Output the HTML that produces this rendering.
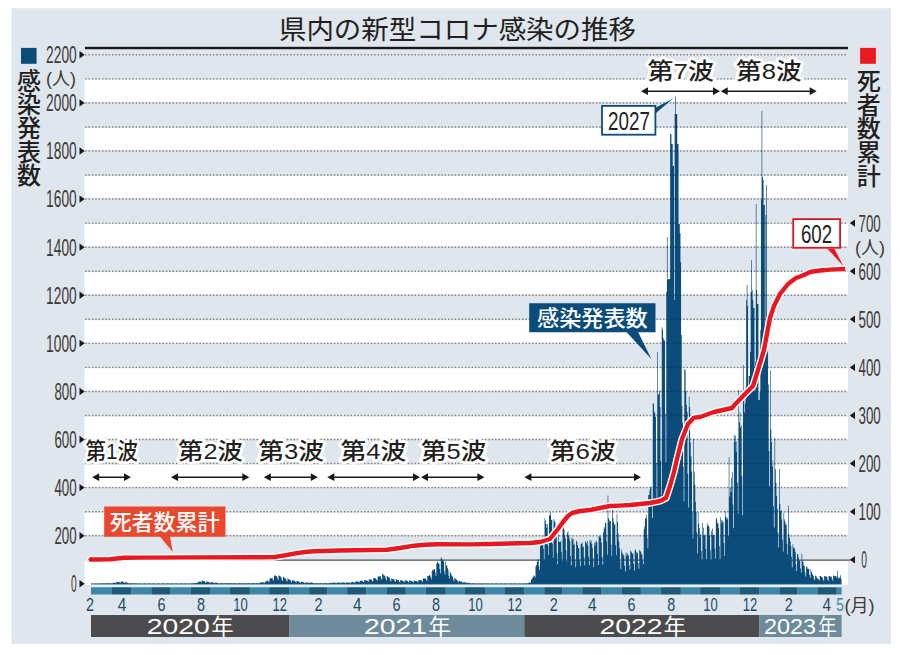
<!DOCTYPE html>
<html lang="ja"><head><meta charset="utf-8"><title>県内の新型コロナ感染の推移</title>
<style>html,body{margin:0;padding:0;background:#fff;}body{width:900px;height:655px;overflow:hidden;font-family:"Liberation Sans",sans-serif;}svg{display:block}svg text{font-family:"Liberation Sans","Noto Sans CJK JP",sans-serif;}</style></head>
<body>
<svg width="900" height="655" viewBox="0 0 900 655" role="img" aria-label="県内の新型コロナ感染の推移">
<rect width="900" height="655" fill="#ffffff"/>
<rect x="11.5" y="8.2" width="879.5" height="635.8" fill="#e0e6ed"/>
<rect x="84.6" y="560.71" width="763.4" height="24.29" fill="#fff"/>
<rect x="84.6" y="512.62" width="763.4" height="22.14" fill="#fff"/>
<rect x="84.6" y="464.52" width="763.4" height="22.15" fill="#fff"/>
<rect x="84.6" y="416.43" width="763.4" height="22.15" fill="#fff"/>
<rect x="84.6" y="368.34" width="763.4" height="22.15" fill="#fff"/>
<rect x="84.6" y="320.25" width="763.4" height="22.14" fill="#fff"/>
<rect x="84.6" y="272.16" width="763.4" height="22.15" fill="#fff"/>
<rect x="84.6" y="224.07" width="763.4" height="22.14" fill="#fff"/>
<rect x="84.6" y="175.98" width="763.4" height="22.15" fill="#fff"/>
<rect x="84.6" y="127.89" width="763.4" height="22.15" fill="#fff"/>
<rect x="84.6" y="79.8" width="763.4" height="22.15" fill="#fff"/>
<path d="M85.2 535.71H848M85.2 511.66H848M85.2 487.62H848M85.2 463.57H848M85.2 439.53H848M85.2 415.48H848M85.2 391.44H848M85.2 367.39H848M85.2 343.35H848M85.2 319.3H848M85.2 295.26H848M85.2 271.21H848M85.2 247.17H848M85.2 223.12H848M85.2 199.08H848M85.2 175.03H848M85.2 150.99H848M85.2 126.94H848M85.2 102.9H848M85.2 78.85H848M85.2 54.81H848" stroke="#808080" stroke-width="1.45" stroke-dasharray="1.45 1.91" fill="none"/>
<rect x="85" y="46.8" width="763" height="2.4" fill="#1a1718"/>
<rect x="90" y="559.46" width="760" height="1.3" fill="#5a5a5c"/>
<path id="bars" d="M91 584.2v-0.65h0.64v0.65zM91.64 584.2v-0.64h0.64v0.64zM92.29 584.2v-0.57h0.64v0.57zM93.58 584.2v-0.71h0.64v0.71zM94.22 584.2v-0.7h0.64v0.7zM94.87 584.2v-0.68h0.64v0.68zM95.51 584.2v-0.7h0.64v0.7zM96.15 584.2v-0.67h0.64v0.67zM96.8 584.2v-0.6h0.64v0.6zM98.09 584.2v-0.75h0.64v0.75zM98.73 584.2v-0.75h0.64v0.75zM99.37 584.2v-0.77h0.64v0.77zM100.02 584.2v-0.73h0.64v0.73zM100.66 584.2v-0.73h0.64v0.73zM101.31 584.2v-0.64h0.64v0.64zM101.95 584.2v-0.58h0.64v0.58zM102.6 584.2v-0.83h0.64v0.83zM103.24 584.2v-0.81h0.64v0.81zM103.88 584.2v-0.84h0.64v0.84zM104.53 584.2v-0.78h0.64v0.78zM105.17 584.2v-0.81h0.64v0.81zM105.82 584.2v-0.67h0.64v0.67zM106.46 584.2v-0.58h0.64v0.58zM107.11 584.2v-0.86h0.64v0.86zM107.75 584.2v-0.87h0.64v0.87zM108.39 584.2v-0.89h0.64v0.89zM109.04 584.2v-0.84h0.64v0.84zM109.68 584.2v-0.85h0.64v0.85zM110.33 584.2v-0.71h0.64v0.71zM110.97 584.2v-0.61h0.64v0.61zM111.61 584.2v-0.95h0.64v0.95zM112.26 584.2v-0.95h0.64v0.95zM112.9 584.2v-1.46h0.64v1.46zM113.55 584.2v-1.54h0.64v1.54zM114.19 584.2v-1.65h0.64v1.65zM114.84 584.2v-1.28h0.64v1.28zM115.48 584.2v-1.04h0.64v1.04zM116.12 584.2v-2.16h0.64v2.16zM116.77 584.2v-2.16h0.64v2.16zM117.41 584.2v-2.18h0.64v2.18zM118.06 584.2v-2.3h0.64v2.3zM118.7 584.2v-2.25h0.64v2.25zM119.34 584.2v-1.62h0.64v1.62zM119.99 584.2v-1.3h0.64v1.3zM120.63 584.2v-2.7h0.64v2.7zM121.28 584.2v-2.77h0.64v2.77zM121.92 584.2v-2.65h0.64v2.65zM122.57 584.2v-2.35h0.64v2.35zM123.21 584.2v-2.3h0.64v2.3zM123.85 584.2v-1.49h0.64v1.49zM124.5 584.2v-1.13h0.64v1.13zM125.14 584.2v-2.16h0.64v2.16zM125.79 584.2v-1.85h0.64v1.85zM126.43 584.2v-1.75h0.64v1.75zM127.08 584.2v-1.52h0.64v1.52zM127.72 584.2v-0.98h0.64v0.98zM128.36 584.2v-0.75h0.64v0.75zM129.01 584.2v-0.62h0.64v0.62zM129.65 584.2v-0.95h0.64v0.95zM130.3 584.2v-0.88h0.64v0.88zM130.94 584.2v-0.87h0.64v0.87zM131.58 584.2v-0.83h0.64v0.83zM132.23 584.2v-0.8h0.64v0.8zM132.87 584.2v-0.66h0.64v0.66zM133.52 584.2v-0.58h0.64v0.58zM134.16 584.2v-0.83h0.64v0.83zM134.81 584.2v-0.78h0.64v0.78zM135.45 584.2v-0.76h0.64v0.76zM136.09 584.2v-0.71h0.64v0.71zM136.74 584.2v-0.71h0.64v0.71zM137.38 584.2v-0.6h0.64v0.6zM138.67 584.2v-0.71h0.64v0.71zM139.31 584.2v-0.67h0.64v0.67zM139.96 584.2v-0.65h0.64v0.65zM140.6 584.2v-0.65h0.64v0.65zM141.25 584.2v-0.62h0.64v0.62zM141.89 584.2v-0.56h0.64v0.56zM143.18 584.2v-0.67h0.64v0.67zM143.82 584.2v-0.65h0.64v0.65zM144.47 584.2v-0.67h0.64v0.67zM145.11 584.2v-0.64h0.64v0.64zM145.76 584.2v-0.63h0.64v0.63zM146.4 584.2v-0.56h0.64v0.56zM147.69 584.2v-0.67h0.64v0.67zM148.33 584.2v-0.67h0.64v0.67zM148.98 584.2v-0.67h0.64v0.67zM149.62 584.2v-0.67h0.64v0.67zM150.27 584.2v-0.66h0.64v0.66zM150.91 584.2v-0.57h0.64v0.57zM152.2 584.2v-0.69h0.64v0.69zM152.84 584.2v-0.67h0.64v0.67zM153.49 584.2v-0.68h0.64v0.68zM154.13 584.2v-0.68h0.64v0.68zM154.78 584.2v-0.64h0.64v0.64zM155.42 584.2v-0.56h0.64v0.56zM156.71 584.2v-0.68h0.64v0.68zM157.35 584.2v-0.68h0.64v0.68zM158 584.2v-0.68h0.64v0.68zM158.64 584.2v-0.66h0.64v0.66zM159.29 584.2v-0.64h0.64v0.64zM159.93 584.2v-0.57h0.64v0.57zM161.22 584.2v-0.7h0.64v0.7zM161.86 584.2v-0.7h0.64v0.7zM162.51 584.2v-0.69h0.64v0.69zM163.15 584.2v-0.67h0.64v0.67zM163.79 584.2v-0.66h0.64v0.66zM164.44 584.2v-0.58h0.64v0.58zM165.73 584.2v-0.72h0.64v0.72zM166.37 584.2v-0.7h0.64v0.7zM167.02 584.2v-0.7h0.64v0.7zM167.66 584.2v-0.69h0.64v0.69zM168.3 584.2v-0.66h0.64v0.66zM168.95 584.2v-0.58h0.64v0.58zM170.24 584.2v-0.71h0.64v0.71zM170.88 584.2v-0.68h0.64v0.68zM171.53 584.2v-0.67h0.64v0.67zM172.17 584.2v-0.67h0.64v0.67zM172.81 584.2v-0.66h0.64v0.66zM173.46 584.2v-0.58h0.64v0.58zM174.75 584.2v-0.69h0.64v0.69zM175.39 584.2v-0.69h0.64v0.69zM176.03 584.2v-0.68h0.64v0.68zM176.68 584.2v-0.68h0.64v0.68zM177.32 584.2v-0.66h0.64v0.66zM177.97 584.2v-0.59h0.64v0.59zM179.26 584.2v-0.71h0.64v0.71zM179.9 584.2v-0.7h0.64v0.7zM180.54 584.2v-0.69h0.64v0.69zM181.19 584.2v-0.68h0.64v0.68zM181.83 584.2v-0.66h0.64v0.66zM182.48 584.2v-0.59h0.64v0.59zM183.76 584.2v-0.72h0.64v0.72zM184.41 584.2v-0.71h0.64v0.71zM185.05 584.2v-0.69h0.64v0.69zM185.7 584.2v-0.68h0.64v0.68zM186.34 584.2v-0.68h0.64v0.68zM186.99 584.2v-0.58h0.64v0.58zM188.27 584.2v-0.72h0.64v0.72zM188.92 584.2v-0.7h0.64v0.7zM189.56 584.2v-0.72h0.64v0.72zM190.21 584.2v-0.73h0.64v0.73zM190.85 584.2v-0.73h0.64v0.73zM191.5 584.2v-0.66h0.64v0.66zM192.14 584.2v-0.58h0.64v0.58zM192.78 584.2v-0.92h0.64v0.92zM193.43 584.2v-0.97h0.64v0.97zM194.07 584.2v-0.98h0.64v0.98zM194.72 584.2v-0.99h0.64v0.99zM195.36 584.2v-1.44h0.64v1.44zM196 584.2v-1.15h0.64v1.15zM196.65 584.2v-0.93h0.64v0.93zM197.29 584.2v-1.9h0.64v1.9zM197.94 584.2v-2h0.64v2zM198.58 584.2v-2.39h0.64v2.39zM199.23 584.2v-2.59h0.64v2.59zM199.87 584.2v-2.8h0.64v2.8zM200.51 584.2v-2.38h0.64v2.38zM201.16 584.2v-1.8h0.64v1.8zM201.8 584.2v-3.71h0.64v3.71zM202.45 584.2v-3.43h0.64v3.43zM203.09 584.2v-3.22h0.64v3.22zM203.74 584.2v-2.98h0.64v2.98zM204.38 584.2v-2.61h0.64v2.61zM205.02 584.2v-1.88h0.64v1.88zM205.67 584.2v-1.36h0.64v1.36zM206.31 584.2v-2.61h0.64v2.61zM206.96 584.2v-2.42h0.64v2.42zM207.6 584.2v-2.33h0.64v2.33zM208.24 584.2v-2.17h0.64v2.17zM208.89 584.2v-2.09h0.64v2.09zM209.53 584.2v-1.52h0.64v1.52zM210.18 584.2v-1.1h0.64v1.1zM210.82 584.2v-2.19h0.64v2.19zM211.47 584.2v-2.07h0.64v2.07zM212.11 584.2v-1.96h0.64v1.96zM212.75 584.2v-1.76h0.64v1.76zM213.4 584.2v-1.63h0.64v1.63zM214.04 584.2v-1.2h0.64v1.2zM214.69 584.2v-0.93h0.64v0.93zM215.33 584.2v-1.67h0.64v1.67zM215.97 584.2v-1.63h0.64v1.63zM216.62 584.2v-1.57h0.64v1.57zM217.26 584.2v-1.01h0.64v1.01zM217.91 584.2v-0.95h0.64v0.95zM218.55 584.2v-0.78h0.64v0.78zM219.2 584.2v-0.66h0.64v0.66zM219.84 584.2v-0.99h0.64v0.99zM220.48 584.2v-1h0.64v1zM221.13 584.2v-0.99h0.64v0.99zM221.77 584.2v-0.96h0.64v0.96zM222.42 584.2v-0.92h0.64v0.92zM223.06 584.2v-0.74h0.64v0.74zM223.71 584.2v-0.62h0.64v0.62zM224.35 584.2v-0.99h0.64v0.99zM224.99 584.2v-0.93h0.64v0.93zM225.64 584.2v-0.93h0.64v0.93zM226.28 584.2v-0.92h0.64v0.92zM226.93 584.2v-0.85h0.64v0.85zM227.57 584.2v-0.7h0.64v0.7zM228.21 584.2v-0.62h0.64v0.62zM228.86 584.2v-0.92h0.64v0.92zM229.5 584.2v-0.86h0.64v0.86zM230.15 584.2v-0.84h0.64v0.84zM230.79 584.2v-0.82h0.64v0.82zM231.44 584.2v-0.83h0.64v0.83zM232.08 584.2v-0.68h0.64v0.68zM232.72 584.2v-0.58h0.64v0.58zM233.37 584.2v-0.87h0.64v0.87zM234.01 584.2v-0.86h0.64v0.86zM234.66 584.2v-0.82h0.64v0.82zM235.3 584.2v-0.79h0.64v0.79zM235.94 584.2v-0.79h0.64v0.79zM236.59 584.2v-0.65h0.64v0.65zM237.23 584.2v-0.57h0.64v0.57zM237.88 584.2v-0.88h0.64v0.88zM238.52 584.2v-0.85h0.64v0.85zM239.17 584.2v-0.83h0.64v0.83zM239.81 584.2v-0.84h0.64v0.84zM240.45 584.2v-0.8h0.64v0.8zM241.1 584.2v-0.69h0.64v0.69zM241.74 584.2v-0.6h0.64v0.6zM242.39 584.2v-0.86h0.64v0.86zM243.03 584.2v-0.85h0.64v0.85zM243.68 584.2v-0.84h0.64v0.84zM244.32 584.2v-0.82h0.64v0.82zM244.96 584.2v-0.83h0.64v0.83zM245.61 584.2v-0.68h0.64v0.68zM246.25 584.2v-0.6h0.64v0.6zM246.9 584.2v-0.88h0.64v0.88zM247.54 584.2v-0.91h0.64v0.91zM248.18 584.2v-0.86h0.64v0.86zM248.83 584.2v-0.85h0.64v0.85zM249.47 584.2v-0.84h0.64v0.84zM250.12 584.2v-0.71h0.64v0.71zM250.76 584.2v-0.6h0.64v0.6zM251.41 584.2v-0.95h0.64v0.95zM252.05 584.2v-0.9h0.64v0.9zM252.69 584.2v-0.89h0.64v0.89zM253.34 584.2v-0.88h0.64v0.88zM253.98 584.2v-0.83h0.64v0.83zM254.63 584.2v-0.71h0.64v0.71zM255.27 584.2v-0.61h0.64v0.61zM255.92 584.2v-0.91h0.64v0.91zM256.56 584.2v-0.94h0.64v0.94zM257.2 584.2v-0.89h0.64v0.89zM257.85 584.2v-0.91h0.64v0.91zM258.49 584.2v-0.95h0.64v0.95zM259.14 584.2v-1.12h0.64v1.12zM259.78 584.2v-0.93h0.64v0.93zM260.42 584.2v-1.85h0.64v1.85zM261.07 584.2v-1.9h0.64v1.9zM261.71 584.2v-1.99h0.64v1.99zM262.36 584.2v-1.91h0.64v1.91zM263 584.2v-2.02h0.64v2.02zM263.65 584.2v-1.51h0.64v1.51zM264.29 584.2v-1.21h0.64v1.21zM264.93 584.2v-2.65h0.64v2.65zM265.58 584.2v-2.59h0.64v2.59zM266.22 584.2v-2.94h0.64v2.94zM266.87 584.2v-3.36h0.64v3.36zM267.51 584.2v-3.72h0.64v3.72zM268.15 584.2v-2.8h0.64v2.8zM268.8 584.2v-2.28h0.64v2.28zM269.44 584.2v-5.53h0.64v5.53zM270.09 584.2v-5.74h0.64v5.74zM270.73 584.2v-6.07h0.64v6.07zM271.38 584.2v-6.09h0.64v6.09zM272.02 584.2v-6.24h0.64v6.24zM272.66 584.2v-4.55h0.64v4.55zM273.31 584.2v-3.59h0.64v3.59zM273.95 584.2v-8.51h0.64v8.51zM274.6 584.2v-8.62h0.64v8.62zM275.24 584.2v-8.69h0.64v8.69zM275.89 584.2v-8.04h0.64v8.04zM276.53 584.2v-8.21h0.64v8.21zM277.17 584.2v-6.07h0.64v6.07zM277.82 584.2v-4.32h0.64v4.32zM278.46 584.2v-9.07h0.64v9.07zM279.11 584.2v-8.39h0.64v8.39zM279.75 584.2v-8.12h0.64v8.12zM280.39 584.2v-7.24h0.64v7.24zM281.04 584.2v-6.78h0.64v6.78zM281.68 584.2v-4.42h0.64v4.42zM282.33 584.2v-3.28h0.64v3.28zM282.97 584.2v-7.45h0.64v7.45zM283.62 584.2v-7.01h0.64v7.01zM284.26 584.2v-6.04h0.64v6.04zM284.9 584.2v-6.02h0.64v6.02zM285.55 584.2v-5.53h0.64v5.53zM286.19 584.2v-3.52h0.64v3.52zM286.84 584.2v-2.66h0.64v2.66zM287.48 584.2v-5.89h0.64v5.89zM288.13 584.2v-5.02h0.64v5.02zM288.77 584.2v-5.08h0.64v5.08zM289.41 584.2v-4.45h0.64v4.45zM290.06 584.2v-4.13h0.64v4.13zM290.7 584.2v-2.93h0.64v2.93zM291.35 584.2v-2.03h0.64v2.03zM291.99 584.2v-3.99h0.64v3.99zM292.63 584.2v-3.85h0.64v3.85zM293.28 584.2v-3.66h0.64v3.66zM293.92 584.2v-3.38h0.64v3.38zM294.57 584.2v-3.1h0.64v3.1zM295.21 584.2v-2.18h0.64v2.18zM295.86 584.2v-1.64h0.64v1.64zM296.5 584.2v-3.13h0.64v3.13zM297.14 584.2v-3.08h0.64v3.08zM297.79 584.2v-2.85h0.64v2.85zM298.43 584.2v-2.55h0.64v2.55zM299.08 584.2v-2.43h0.64v2.43zM299.72 584.2v-1.75h0.64v1.75zM300.37 584.2v-1.28h0.64v1.28zM301.01 584.2v-2.38h0.64v2.38zM301.65 584.2v-2.42h0.64v2.42zM302.3 584.2v-2.21h0.64v2.21zM302.94 584.2v-2.09h0.64v2.09zM303.59 584.2v-1.77h0.64v1.77zM304.23 584.2v-1.29h0.64v1.29zM304.87 584.2v-0.96h0.64v0.96zM305.52 584.2v-1.92h0.64v1.92zM306.16 584.2v-1.75h0.64v1.75zM306.81 584.2v-1.67h0.64v1.67zM307.45 584.2v-1.65h0.64v1.65zM308.1 584.2v-1.65h0.64v1.65zM308.74 584.2v-1.22h0.64v1.22zM309.38 584.2v-0.92h0.64v0.92zM310.03 584.2v-1.67h0.64v1.67zM310.67 584.2v-1.71h0.64v1.71zM311.32 584.2v-1.6h0.64v1.6zM311.96 584.2v-1.56h0.64v1.56zM312.6 584.2v-1.41h0.64v1.41zM313.25 584.2v-1.07h0.64v1.07zM313.89 584.2v-0.67h0.64v0.67zM314.54 584.2v-1.04h0.64v1.04zM315.18 584.2v-0.98h0.64v0.98zM315.83 584.2v-1.01h0.64v1.01zM316.47 584.2v-0.96h0.64v0.96zM317.11 584.2v-0.93h0.64v0.93zM317.76 584.2v-0.72h0.64v0.72zM318.4 584.2v-0.64h0.64v0.64zM319.05 584.2v-0.93h0.64v0.93zM319.69 584.2v-0.95h0.64v0.95zM320.34 584.2v-0.92h0.64v0.92zM320.98 584.2v-0.9h0.64v0.9zM321.62 584.2v-0.89h0.64v0.89zM322.27 584.2v-0.75h0.64v0.75zM322.91 584.2v-0.63h0.64v0.63zM323.56 584.2v-0.97h0.64v0.97zM324.2 584.2v-0.98h0.64v0.98zM324.84 584.2v-0.95h0.64v0.95zM325.49 584.2v-0.93h0.64v0.93zM326.13 584.2v-0.91h0.64v0.91zM326.78 584.2v-0.74h0.64v0.74zM327.42 584.2v-0.64h0.64v0.64zM328.07 584.2v-1.03h0.64v1.03zM328.71 584.2v-1.01h0.64v1.01zM329.35 584.2v-1.03h0.64v1.03zM330 584.2v-1.46h0.64v1.46zM330.64 584.2v-1.45h0.64v1.45zM331.29 584.2v-1.09h0.64v1.09zM331.93 584.2v-0.89h0.64v0.89zM332.57 584.2v-1.59h0.64v1.59zM333.22 584.2v-1.58h0.64v1.58zM333.86 584.2v-1.52h0.64v1.52zM334.51 584.2v-1.6h0.64v1.6zM335.15 584.2v-1.53h0.64v1.53zM335.8 584.2v-1.14h0.64v1.14zM336.44 584.2v-0.93h0.64v0.93zM337.08 584.2v-1.82h0.64v1.82zM337.73 584.2v-1.64h0.64v1.64zM338.37 584.2v-1.73h0.64v1.73zM339.02 584.2v-1.64h0.64v1.64zM339.66 584.2v-1.6h0.64v1.6zM340.31 584.2v-1.25h0.64v1.25zM340.95 584.2v-0.96h0.64v0.96zM341.59 584.2v-1.84h0.64v1.84zM342.24 584.2v-1.82h0.64v1.82zM342.88 584.2v-1.84h0.64v1.84zM343.53 584.2v-1.7h0.64v1.7zM344.17 584.2v-1.73h0.64v1.73zM344.81 584.2v-1.29h0.64v1.29zM345.46 584.2v-1.02h0.64v1.02zM346.1 584.2v-1.91h0.64v1.91zM346.75 584.2v-1.85h0.64v1.85zM347.39 584.2v-1.77h0.64v1.77zM348.04 584.2v-1.75h0.64v1.75zM348.68 584.2v-1.69h0.64v1.69zM349.32 584.2v-1.35h0.64v1.35zM349.97 584.2v-1.04h0.64v1.04zM350.61 584.2v-2.06h0.64v2.06zM351.26 584.2v-2.06h0.64v2.06zM351.9 584.2v-2.25h0.64v2.25zM352.55 584.2v-2.28h0.64v2.28zM353.19 584.2v-2.24h0.64v2.24zM353.83 584.2v-1.63h0.64v1.63zM354.48 584.2v-1.28h0.64v1.28zM355.12 584.2v-2.71h0.64v2.71zM355.77 584.2v-2.75h0.64v2.75zM356.41 584.2v-2.68h0.64v2.68zM357.05 584.2v-2.78h0.64v2.78zM357.7 584.2v-2.7h0.64v2.7zM358.34 584.2v-2.14h0.64v2.14zM358.99 584.2v-1.65h0.64v1.65zM359.63 584.2v-3.46h0.64v3.46zM360.28 584.2v-3.32h0.64v3.32zM360.92 584.2v-3.58h0.64v3.58zM361.56 584.2v-3.33h0.64v3.33zM362.21 584.2v-3.3h0.64v3.3zM362.85 584.2v-2.32h0.64v2.32zM363.5 584.2v-1.83h0.64v1.83zM364.14 584.2v-4.11h0.64v4.11zM364.79 584.2v-4.07h0.64v4.07zM365.43 584.2v-3.94h0.64v3.94zM366.07 584.2v-4.07h0.64v4.07zM366.72 584.2v-3.8h0.64v3.8zM367.36 584.2v-2.84h0.64v2.84zM368.01 584.2v-2.1h0.64v2.1zM368.65 584.2v-4.94h0.64v4.94zM369.29 584.2v-4.68h0.64v4.68zM369.94 584.2v-4.65h0.64v4.65zM370.58 584.2v-4.78h0.64v4.78zM371.23 584.2v-4.65h0.64v4.65zM371.87 584.2v-3.47h0.64v3.47zM372.52 584.2v-2.55h0.64v2.55zM373.16 584.2v-6.06h0.64v6.06zM373.8 584.2v-5.9h0.64v5.9zM374.45 584.2v-5.89h0.64v5.89zM375.09 584.2v-6.05h0.64v6.05zM375.74 584.2v-5.77h0.64v5.77zM376.38 584.2v-4.18h0.64v4.18zM377.02 584.2v-3.35h0.64v3.35zM377.67 584.2v-7.39h0.64v7.39zM378.31 584.2v-7.91h0.64v7.91zM378.96 584.2v-7.91h0.64v7.91zM379.6 584.2v-7.43h0.64v7.43zM380.25 584.2v-8.11h0.64v8.11zM380.89 584.2v-5.86h0.64v5.86zM381.53 584.2v-4.2h0.64v4.2zM382.18 584.2v-10.39h0.64v10.39zM382.82 584.2v-10.28h0.64v10.28zM383.47 584.2v-8.91h0.64v8.91zM384.11 584.2v-8.71h0.64v8.71zM384.76 584.2v-8.02h0.64v8.02zM385.4 584.2v-5.53h0.64v5.53zM386.04 584.2v-3.78h0.64v3.78zM386.69 584.2v-8.5h0.64v8.5zM387.33 584.2v-7.65h0.64v7.65zM387.98 584.2v-7.36h0.64v7.36zM388.62 584.2v-6.68h0.64v6.68zM389.26 584.2v-6.13h0.64v6.13zM389.91 584.2v-3.87h0.64v3.87zM390.55 584.2v-2.61h0.64v2.61zM391.2 584.2v-5.7h0.64v5.7zM391.84 584.2v-5.37h0.64v5.37zM392.49 584.2v-4.96h0.64v4.96zM393.13 584.2v-5.11h0.64v5.11zM393.77 584.2v-4.65h0.64v4.65zM394.42 584.2v-3.22h0.64v3.22zM395.06 584.2v-2.29h0.64v2.29zM395.71 584.2v-5.04h0.64v5.04zM396.35 584.2v-4.64h0.64v4.64zM397 584.2v-4.16h0.64v4.16zM397.64 584.2v-4.3h0.64v4.3zM398.28 584.2v-4h0.64v4zM398.93 584.2v-2.69h0.64v2.69zM399.57 584.2v-1.93h0.64v1.93zM400.22 584.2v-4.25h0.64v4.25zM400.86 584.2v-3.8h0.64v3.8zM401.5 584.2v-3.95h0.64v3.95zM402.15 584.2v-3.61h0.64v3.61zM402.79 584.2v-3.37h0.64v3.37zM403.44 584.2v-2.44h0.64v2.44zM404.08 584.2v-1.87h0.64v1.87zM404.73 584.2v-3.82h0.64v3.82zM405.37 584.2v-3.87h0.64v3.87zM406.01 584.2v-3.82h0.64v3.82zM406.66 584.2v-3.5h0.64v3.5zM407.3 584.2v-3.3h0.64v3.3zM407.95 584.2v-2.36h0.64v2.36zM408.59 584.2v-1.77h0.64v1.77zM409.23 584.2v-3.83h0.64v3.83zM409.88 584.2v-3.61h0.64v3.61zM410.52 584.2v-3.52h0.64v3.52zM411.17 584.2v-3.22h0.64v3.22zM411.81 584.2v-3.12h0.64v3.12zM412.46 584.2v-2.26h0.64v2.26zM413.1 584.2v-1.76h0.64v1.76zM413.74 584.2v-3.62h0.64v3.62zM414.39 584.2v-3.59h0.64v3.59zM415.03 584.2v-3.29h0.64v3.29zM415.68 584.2v-3.21h0.64v3.21zM416.32 584.2v-3.16h0.64v3.16zM416.97 584.2v-2.35h0.64v2.35zM417.61 584.2v-1.75h0.64v1.75zM418.25 584.2v-3.99h0.64v3.99zM418.9 584.2v-3.92h0.64v3.92zM419.54 584.2v-4.13h0.64v4.13zM420.19 584.2v-4.2h0.64v4.2zM420.83 584.2v-4.24h0.64v4.24zM421.47 584.2v-3.01h0.64v3.01zM422.12 584.2v-2.47h0.64v2.47zM422.76 584.2v-5.38h0.64v5.38zM423.41 584.2v-5.86h0.64v5.86zM424.05 584.2v-5.87h0.64v5.87zM424.7 584.2v-5.33h0.64v5.33zM425.34 584.2v-5.82h0.64v5.82zM425.98 584.2v-4.52h0.64v4.52zM426.63 584.2v-3.51h0.64v3.51zM427.27 584.2v-8.23h0.64v8.23zM427.92 584.2v-8.23h0.64v8.23zM428.56 584.2v-8.39h0.64v8.39zM429.2 584.2v-9.33h0.64v9.33zM429.85 584.2v-8.75h0.64v8.75zM430.49 584.2v-6.86h0.64v6.86zM431.14 584.2v-4.99h0.64v4.99zM431.78 584.2v-13.39h0.64v13.39zM432.43 584.2v-14.49h0.64v14.49zM433.07 584.2v-13.64h0.64v13.64zM433.71 584.2v-15.23h0.64v15.23zM434.36 584.2v-15.17h0.64v15.17zM435 584.2v-11.6h0.64v11.6zM435.65 584.2v-8.49h0.64v8.49zM436.29 584.2v-20.75h0.64v20.75zM436.94 584.2v-22.67h0.64v22.67zM437.58 584.2v-21.76h0.64v21.76zM438.22 584.2v-20.65h0.64v20.65zM438.87 584.2v-20.39h0.64v20.39zM439.51 584.2v-15.22h0.64v15.22zM440.16 584.2v-10.91h0.64v10.91zM440.8 584.2v-27.05h0.64v27.05zM441.44 584.2v-25.64h0.64v25.64zM442.09 584.2v-24.77h0.64v24.77zM442.73 584.2v-23.23h0.64v23.23zM443.38 584.2v-22.92h0.64v22.92zM444.02 584.2v-13.55h0.64v13.55zM444.67 584.2v-9.8h0.64v9.8zM445.31 584.2v-22.81h0.64v22.81zM445.95 584.2v-18.87h0.64v18.87zM446.6 584.2v-18.63h0.64v18.63zM447.24 584.2v-16.23h0.64v16.23zM447.89 584.2v-14.5h0.64v14.5zM448.53 584.2v-8.4h0.64v8.4zM449.18 584.2v-5.51h0.64v5.51zM449.82 584.2v-12.14h0.64v12.14zM450.46 584.2v-11.41h0.64v11.41zM451.11 584.2v-9.56h0.64v9.56zM451.75 584.2v-8.12h0.64v8.12zM452.4 584.2v-7.29h0.64v7.29zM453.04 584.2v-4.6h0.64v4.6zM453.68 584.2v-2.97h0.64v2.97zM454.33 584.2v-6.26h0.64v6.26zM454.97 584.2v-5.9h0.64v5.9zM455.62 584.2v-4.8h0.64v4.8zM456.26 584.2v-4.67h0.64v4.67zM456.91 584.2v-3.89h0.64v3.89zM457.55 584.2v-2.58h0.64v2.58zM458.19 584.2v-1.82h0.64v1.82zM458.84 584.2v-3.5h0.64v3.5zM459.48 584.2v-3.14h0.64v3.14zM460.13 584.2v-3.03h0.64v3.03zM460.77 584.2v-2.77h0.64v2.77zM461.42 584.2v-2.5h0.64v2.5zM462.06 584.2v-1.68h0.64v1.68zM462.7 584.2v-1.25h0.64v1.25zM463.35 584.2v-2.34h0.64v2.34zM463.99 584.2v-2.02h0.64v2.02zM464.64 584.2v-1.84h0.64v1.84zM465.28 584.2v-1.64h0.64v1.64zM465.92 584.2v-1.65h0.64v1.65zM466.57 584.2v-1.19h0.64v1.19zM467.21 584.2v-0.95h0.64v0.95zM467.86 584.2v-1.7h0.64v1.7zM468.5 584.2v-1.55h0.64v1.55zM469.15 584.2v-0.97h0.64v0.97zM469.79 584.2v-0.99h0.64v0.99zM470.43 584.2v-0.9h0.64v0.9zM471.08 584.2v-0.73h0.64v0.73zM471.72 584.2v-0.62h0.64v0.62zM472.37 584.2v-0.92h0.64v0.92zM473.01 584.2v-0.9h0.64v0.9zM473.65 584.2v-0.87h0.64v0.87zM474.3 584.2v-0.8h0.64v0.8zM474.94 584.2v-0.78h0.64v0.78zM475.59 584.2v-0.65h0.64v0.65zM476.23 584.2v-0.57h0.64v0.57zM476.88 584.2v-0.82h0.64v0.82zM477.52 584.2v-0.79h0.64v0.79zM478.16 584.2v-0.78h0.64v0.78zM478.81 584.2v-0.77h0.64v0.77zM479.45 584.2v-0.78h0.64v0.78zM480.1 584.2v-0.64h0.64v0.64zM480.74 584.2v-0.56h0.64v0.56zM481.39 584.2v-0.83h0.64v0.83zM482.03 584.2v-0.81h0.64v0.81zM482.67 584.2v-0.77h0.64v0.77zM483.32 584.2v-0.75h0.64v0.75zM483.96 584.2v-0.73h0.64v0.73zM484.61 584.2v-0.62h0.64v0.62zM485.25 584.2v-0.55h0.64v0.55zM485.89 584.2v-0.77h0.64v0.77zM486.54 584.2v-0.76h0.64v0.76zM487.18 584.2v-0.75h0.64v0.75zM487.83 584.2v-0.75h0.64v0.75zM488.47 584.2v-0.74h0.64v0.74zM489.12 584.2v-0.62h0.64v0.62zM490.4 584.2v-0.77h0.64v0.77zM491.05 584.2v-0.75h0.64v0.75zM491.69 584.2v-0.73h0.64v0.73zM492.34 584.2v-0.72h0.64v0.72zM492.98 584.2v-0.69h0.64v0.69zM493.62 584.2v-0.6h0.64v0.6zM494.91 584.2v-0.74h0.64v0.74zM495.56 584.2v-0.73h0.64v0.73zM496.2 584.2v-0.73h0.64v0.73zM496.85 584.2v-0.72h0.64v0.72zM497.49 584.2v-0.68h0.64v0.68zM498.13 584.2v-0.59h0.64v0.59zM499.42 584.2v-0.73h0.64v0.73zM500.07 584.2v-0.71h0.64v0.71zM500.71 584.2v-0.72h0.64v0.72zM501.36 584.2v-0.71h0.64v0.71zM502 584.2v-0.7h0.64v0.7zM502.64 584.2v-0.58h0.64v0.58zM503.93 584.2v-0.74h0.64v0.74zM504.58 584.2v-0.73h0.64v0.73zM505.22 584.2v-0.71h0.64v0.71zM505.86 584.2v-0.7h0.64v0.7zM506.51 584.2v-0.67h0.64v0.67zM507.15 584.2v-0.59h0.64v0.59zM508.44 584.2v-0.74h0.64v0.74zM509.09 584.2v-0.73h0.64v0.73zM509.73 584.2v-0.72h0.64v0.72zM510.37 584.2v-0.69h0.64v0.69zM511.02 584.2v-0.67h0.64v0.67zM511.66 584.2v-0.58h0.64v0.58zM512.95 584.2v-0.74h0.64v0.74zM513.6 584.2v-0.73h0.64v0.73zM514.24 584.2v-0.72h0.64v0.72zM514.88 584.2v-0.7h0.64v0.7zM515.53 584.2v-0.69h0.64v0.69zM516.17 584.2v-0.59h0.64v0.59zM517.46 584.2v-0.71h0.64v0.71zM518.1 584.2v-0.73h0.64v0.73zM518.75 584.2v-0.7h0.64v0.7zM519.39 584.2v-0.71h0.64v0.71zM520.04 584.2v-0.69h0.64v0.69zM520.68 584.2v-0.6h0.64v0.6zM521.97 584.2v-0.76h0.64v0.76zM522.61 584.2v-0.77h0.64v0.77zM523.26 584.2v-0.77h0.64v0.77zM523.9 584.2v-0.74h0.64v0.74zM524.55 584.2v-0.73h0.64v0.73zM525.19 584.2v-0.64h0.64v0.64zM525.84 584.2v-0.57h0.64v0.57zM526.48 584.2v-0.83h0.64v0.83zM527.12 584.2v-0.88h0.64v0.88zM527.77 584.2v-1h0.64v1zM528.41 584.2v-1.57h0.64v1.57zM529.06 584.2v-1.74h0.64v1.74zM529.7 584.2v-1.46h0.64v1.46zM530.34 584.2v-1.63h0.64v1.63zM530.99 584.2v-4.45h0.64v4.45zM531.63 584.2v-5.48h0.64v5.48zM532.28 584.2v-6.09h0.64v6.09zM532.92 584.2v-7.17h0.64v7.17zM533.57 584.2v-9.03h0.64v9.03zM534.21 584.2v-8.31h0.64v8.31zM534.85 584.2v-6.75h0.64v6.75zM535.5 584.2v-18.06h0.64v18.06zM536.14 584.2v-19.2h0.64v19.2zM536.79 584.2v-22.26h0.64v22.26zM537.43 584.2v-24.52h0.64v24.52zM538.07 584.2v-25.09h0.64v25.09zM538.72 584.2v-18.26h0.64v18.26zM539.36 584.2v-14.46h0.64v14.46zM540.01 584.2v-40.28h0.64v40.28zM540.65 584.2v-39.52h0.64v39.52zM541.3 584.2v-41.07h0.64v41.07zM541.94 584.2v-45.09h0.64v45.09zM542.58 584.2v-47.37h0.64v47.37zM543.23 584.2v-35.76h0.64v35.76zM543.87 584.2v-24.66h0.64v24.66zM544.52 584.2v-66.02h0.64v66.02zM545.16 584.2v-63.39h0.64v63.39zM545.81 584.2v-60.16h0.64v60.16zM546.45 584.2v-56.52h0.64v56.52zM547.09 584.2v-60.32h0.64v60.32zM547.74 584.2v-38.8h0.64v38.8zM548.38 584.2v-29.28h0.64v29.28zM549.03 584.2v-69.42h0.64v69.42zM549.67 584.2v-68.24h0.64v68.24zM550.31 584.2v-72.04h0.64v72.04zM550.96 584.2v-64.32h0.64v64.32zM551.6 584.2v-64.71h0.64v64.71zM552.25 584.2v-40.43h0.64v40.43zM552.89 584.2v-26.42h0.64v26.42zM553.54 584.2v-65.12h0.64v65.12zM554.18 584.2v-63.41h0.64v63.41zM554.82 584.2v-61.98h0.64v61.98zM555.47 584.2v-58.31h0.64v58.31zM556.11 584.2v-47.5h0.64v47.5zM556.76 584.2v-31.02h0.64v31.02zM557.4 584.2v-20.06h0.64v20.06zM558.05 584.2v-51.48h0.64v51.48zM558.69 584.2v-42.5h0.64v42.5zM559.33 584.2v-42.15h0.64v42.15zM559.98 584.2v-42.21h0.64v42.21zM560.62 584.2v-43.41h0.64v43.41zM561.27 584.2v-32.17h0.64v32.17zM561.91 584.2v-22.94h0.64v22.94zM562.55 584.2v-57.44h0.64v57.44zM563.2 584.2v-56.99h0.64v56.99zM563.84 584.2v-54.6h0.64v54.6zM564.49 584.2v-49.06h0.64v49.06zM565.13 584.2v-45.9h0.64v45.9zM565.78 584.2v-33.82h0.64v33.82zM566.42 584.2v-22.82h0.64v22.82zM567.06 584.2v-51.47h0.64v51.47zM567.71 584.2v-53.02h0.64v53.02zM568.35 584.2v-48.78h0.64v48.78zM569 584.2v-46.33h0.64v46.33zM569.64 584.2v-43.25h0.64v43.25zM570.28 584.2v-28.19h0.64v28.19zM570.93 584.2v-18.8h0.64v18.8zM571.57 584.2v-47.09h0.64v47.09zM572.22 584.2v-44.71h0.64v44.71zM572.86 584.2v-45.54h0.64v45.54zM573.51 584.2v-39.12h0.64v39.12zM574.15 584.2v-40.43h0.64v40.43zM574.79 584.2v-24.53h0.64v24.53zM575.44 584.2v-16.97h0.64v16.97zM576.08 584.2v-43.81h0.64v43.81zM576.73 584.2v-42.08h0.64v42.08zM577.37 584.2v-38.96h0.64v38.96zM578.02 584.2v-35.99h0.64v35.99zM578.66 584.2v-36.23h0.64v36.23zM579.3 584.2v-24.27h0.64v24.27zM579.95 584.2v-17.96h0.64v17.96zM580.59 584.2v-40.66h0.64v40.66zM581.24 584.2v-40.3h0.64v40.3zM581.88 584.2v-42.06h0.64v42.06zM582.52 584.2v-37.15h0.64v37.15zM583.17 584.2v-37.66h0.64v37.66zM583.81 584.2v-27.06h0.64v27.06zM584.46 584.2v-18.9h0.64v18.9zM585.1 584.2v-43.24h0.64v43.24zM585.75 584.2v-41.9h0.64v41.9zM586.39 584.2v-40.6h0.64v40.6zM587.03 584.2v-43.38h0.64v43.38zM587.68 584.2v-38.22h0.64v38.22zM588.32 584.2v-27.36h0.64v27.36zM588.97 584.2v-19.25h0.64v19.25zM589.61 584.2v-44.35h0.64v44.35zM590.25 584.2v-41.91h0.64v41.91zM590.9 584.2v-43.63h0.64v43.63zM591.54 584.2v-40.26h0.64v40.26zM592.19 584.2v-36.57h0.64v36.57zM592.83 584.2v-25.93h0.64v25.93zM593.48 584.2v-17.03h0.64v17.03zM594.12 584.2v-41.4h0.64v41.4zM594.76 584.2v-38.35h0.64v38.35zM595.41 584.2v-42.33h0.64v42.33zM596.05 584.2v-43.36h0.64v43.36zM596.7 584.2v-41.63h0.64v41.63zM597.34 584.2v-30.27h0.64v30.27zM597.99 584.2v-19.14h0.64v19.14zM598.63 584.2v-48.24h0.64v48.24zM599.27 584.2v-47.45h0.64v47.45zM599.92 584.2v-48.37h0.64v48.37zM600.56 584.2v-46.57h0.64v46.57zM601.21 584.2v-41.45h0.64v41.45zM601.85 584.2v-27.48h0.64v27.48zM602.49 584.2v-19.39h0.64v19.39zM603.14 584.2v-51.85h0.64v51.85zM603.78 584.2v-57.57h0.64v57.57zM604.43 584.2v-55.68h0.64v55.68zM605.07 584.2v-61.62h0.64v61.62zM605.72 584.2v-61.12h0.64v61.12zM606.36 584.2v-43.01h0.64v43.01zM607 584.2v-29.51h0.64v29.51zM607.65 584.2v-88.6h0.64v88.6zM608.29 584.2v-66.17h0.64v66.17zM608.94 584.2v-64.05h0.64v64.05zM609.58 584.2v-62.65h0.64v62.65zM610.23 584.2v-63.27h0.64v63.27zM610.87 584.2v-39.55h0.64v39.55zM611.51 584.2v-27.95h0.64v27.95zM612.16 584.2v-74.28h0.64v74.28zM612.8 584.2v-66.46h0.64v66.46zM613.45 584.2v-62.29h0.64v62.29zM614.09 584.2v-59.43h0.64v59.43zM614.73 584.2v-59.89h0.64v59.89zM615.38 584.2v-39.07h0.64v39.07zM616.02 584.2v-28.94h0.64v28.94zM616.67 584.2v-70.29h0.64v70.29zM617.31 584.2v-62.49h0.64v62.49zM617.96 584.2v-50.38h0.64v50.38zM618.6 584.2v-42.73h0.64v42.73zM619.24 584.2v-36.32h0.64v36.32zM619.89 584.2v-22.62h0.64v22.62zM620.53 584.2v-14.89h0.64v14.89zM621.18 584.2v-34.65h0.64v34.65zM621.82 584.2v-31.64h0.64v31.64zM622.47 584.2v-30.55h0.64v30.55zM623.11 584.2v-29.52h0.64v29.52zM623.75 584.2v-27.65h0.64v27.65zM624.4 584.2v-18.42h0.64v18.42zM625.04 584.2v-12.94h0.64v12.94zM625.69 584.2v-31.64h0.64v31.64zM626.33 584.2v-28.97h0.64v28.97zM626.97 584.2v-31.1h0.64v31.1zM627.62 584.2v-28.71h0.64v28.71zM628.26 584.2v-28.82h0.64v28.82zM628.91 584.2v-19.43h0.64v19.43zM629.55 584.2v-14.33h0.64v14.33zM630.2 584.2v-33.56h0.64v33.56zM630.84 584.2v-32.76h0.64v32.76zM631.48 584.2v-31.59h0.64v31.59zM632.13 584.2v-30.1h0.64v30.1zM632.77 584.2v-31.24h0.64v31.24zM633.42 584.2v-20.37h0.64v20.37zM634.06 584.2v-13.7h0.64v13.7zM634.7 584.2v-33.79h0.64v33.79zM635.35 584.2v-35.06h0.64v35.06zM635.99 584.2v-32.39h0.64v32.39zM636.64 584.2v-30.58h0.64v30.58zM637.28 584.2v-31.55h0.64v31.55zM637.93 584.2v-21.2h0.64v21.2zM638.57 584.2v-15.43h0.64v15.43zM639.21 584.2v-34.47h0.64v34.47zM639.86 584.2v-33.51h0.64v33.51zM640.5 584.2v-32.51h0.64v32.51zM641.15 584.2v-30.29h0.64v30.29zM641.79 584.2v-29.67h0.64v29.67zM642.44 584.2v-23.24h0.64v23.24zM643.08 584.2v-20.27h0.64v20.27zM643.72 584.2v-54.93h0.64v54.93zM644.37 584.2v-57.68h0.64v57.68zM645.01 584.2v-66.06h0.64v66.06zM645.66 584.2v-65.52h0.64v65.52zM646.3 584.2v-69.28h0.64v69.28zM646.94 584.2v-46.47h0.64v46.47zM647.59 584.2v-35.97h0.64v35.97zM648.23 584.2v-89.28h0.64v89.28zM648.88 584.2v-89.2h0.64v89.2zM649.52 584.2v-94.44h0.64v94.44zM650.17 584.2v-97.17h0.64v97.17zM650.81 584.2v-97.39h0.64v97.39zM651.45 584.2v-80.92h0.64v80.92zM652.1 584.2v-66.08h0.64v66.08zM652.74 584.2v-181.17h0.64v181.17zM653.39 584.2v-180.12h0.64v180.12zM654.03 584.2v-172.43h0.64v172.43zM654.67 584.2v-170.87h0.64v170.87zM655.32 584.2v-167.36h0.64v167.36zM655.96 584.2v-121.08h0.64v121.08zM656.61 584.2v-86.41h0.64v86.41zM657.25 584.2v-232.2h0.64v232.2zM657.9 584.2v-189.6h0.64v189.6zM658.54 584.2v-189.9h0.64v189.9zM659.18 584.2v-193.75h0.64v193.75zM659.83 584.2v-177.12h0.64v177.12zM660.47 584.2v-123.3h0.64v123.3zM661.12 584.2v-89.16h0.64v89.16zM661.76 584.2v-256.98h0.64v256.98zM662.41 584.2v-254.59h0.64v254.59zM663.05 584.2v-246.03h0.64v246.03zM663.69 584.2v-243.66h0.64v243.66zM664.34 584.2v-243.64h0.64v243.64zM664.98 584.2v-170.46h0.64v170.46zM665.63 584.2v-122.07h0.64v122.07zM666.27 584.2v-292.25h0.64v292.25zM666.91 584.2v-347.2h0.64v347.2zM667.56 584.2v-304.16h0.64v304.16zM668.2 584.2v-305.2h0.64v305.2zM668.85 584.2v-305.2h0.64v305.2zM669.49 584.2v-305.2h0.64v305.2zM670.14 584.2v-450.2h0.64v450.2zM670.78 584.2v-450.2h0.64v450.2zM671.42 584.2v-440.2h0.64v440.2zM672.07 584.2v-440.2h0.64v440.2zM672.71 584.2v-418.2h0.64v418.2zM673.36 584.2v-418.2h0.64v418.2zM674 584.2v-284.2h0.64v284.2zM674.65 584.2v-470.2h0.64v470.2zM675.29 584.2v-487.7h0.64v487.7zM675.93 584.2v-470.2h0.64v470.2zM676.58 584.2v-470.2h0.64v470.2zM677.22 584.2v-440.2h0.64v440.2zM677.87 584.2v-440.2h0.64v440.2zM678.51 584.2v-360.2h0.64v360.2zM679.15 584.2v-360.2h0.64v360.2zM679.8 584.2v-351.2h0.64v351.2zM680.44 584.2v-322.2h0.64v322.2zM681.09 584.2v-249.2h0.64v249.2zM681.73 584.2v-178.2h0.64v178.2zM682.38 584.2v-161.65h0.64v161.65zM683.02 584.2v-117.68h0.64v117.68zM683.66 584.2v-82.91h0.64v82.91zM684.31 584.2v-215.19h0.64v215.19zM684.95 584.2v-214.2h0.64v214.2zM685.6 584.2v-192.87h0.64v192.87zM686.24 584.2v-179.44h0.64v179.44zM686.88 584.2v-172.57h0.64v172.57zM687.53 584.2v-110.42h0.64v110.42zM688.17 584.2v-76.81h0.64v76.81zM688.82 584.2v-187.42h0.64v187.42zM689.46 584.2v-177.49h0.64v177.49zM690.11 584.2v-142.05h0.64v142.05zM690.75 584.2v-128.05h0.64v128.05zM691.39 584.2v-112.62h0.64v112.62zM692.04 584.2v-72.83h0.64v72.83zM692.68 584.2v-45.61h0.64v45.61zM693.33 584.2v-145.2h0.64v145.2zM693.97 584.2v-112.73h0.64v112.73zM694.62 584.2v-99.49h0.64v99.49zM695.26 584.2v-82.46h0.64v82.46zM695.9 584.2v-71.97h0.64v71.97zM696.55 584.2v-51.91h0.64v51.91zM697.19 584.2v-30.76h0.64v30.76zM697.84 584.2v-72.07h0.64v72.07zM698.48 584.2v-60.57h0.64v60.57zM699.12 584.2v-55.95h0.64v55.95zM699.77 584.2v-47.12h0.64v47.12zM700.41 584.2v-50.54h0.64v50.54zM701.06 584.2v-33.27h0.64v33.27zM701.7 584.2v-24.41h0.64v24.41zM702.35 584.2v-61.29h0.64v61.29zM702.99 584.2v-56.49h0.64v56.49zM703.63 584.2v-48.67h0.64v48.67zM704.28 584.2v-48.92h0.64v48.92zM704.92 584.2v-49.64h0.64v49.64zM705.57 584.2v-35.33h0.64v35.33zM706.21 584.2v-24.95h0.64v24.95zM706.86 584.2v-61.02h0.64v61.02zM707.5 584.2v-58.45h0.64v58.45zM708.14 584.2v-58.89h0.64v58.89zM708.79 584.2v-57.08h0.64v57.08zM709.43 584.2v-48.33h0.64v48.33zM710.08 584.2v-34.21h0.64v34.21zM710.72 584.2v-23.8h0.64v23.8zM711.36 584.2v-53.4h0.64v53.4zM712.01 584.2v-55.81h0.64v55.81zM712.65 584.2v-49.05h0.64v49.05zM713.3 584.2v-49.74h0.64v49.74zM713.94 584.2v-48.43h0.64v48.43zM714.59 584.2v-35.55h0.64v35.55zM715.23 584.2v-25.36h0.64v25.36zM715.87 584.2v-66.46h0.64v66.46zM716.52 584.2v-64.76h0.64v64.76zM717.16 584.2v-61.29h0.64v61.29zM717.81 584.2v-60.69h0.64v60.69zM718.45 584.2v-56.3h0.64v56.3zM719.1 584.2v-37.87h0.64v37.87zM719.74 584.2v-24.87h0.64v24.87zM720.38 584.2v-67.02h0.64v67.02zM721.03 584.2v-64.15h0.64v64.15zM721.67 584.2v-60.99h0.64v60.99zM722.32 584.2v-63.78h0.64v63.78zM722.96 584.2v-62.18h0.64v62.18zM723.6 584.2v-41.22h0.64v41.22zM724.25 584.2v-28.08h0.64v28.08zM724.89 584.2v-73.07h0.64v73.07zM725.54 584.2v-67.39h0.64v67.39zM726.18 584.2v-65.75h0.64v65.75zM726.83 584.2v-67.06h0.64v67.06zM727.47 584.2v-64.64h0.64v64.64zM728.11 584.2v-47.87h0.64v47.87zM728.76 584.2v-127.2h0.64v127.2zM729.4 584.2v-87.63h0.64v87.63zM730.05 584.2v-96.13h0.64v96.13zM730.69 584.2v-92.28h0.64v92.28zM731.33 584.2v-106.72h0.64v106.72zM731.98 584.2v-112.21h0.64v112.21zM732.62 584.2v-79.81h0.64v79.81zM733.27 584.2v-56.29h0.64v56.29zM733.91 584.2v-149.33h0.64v149.33zM734.56 584.2v-142.22h0.64v142.22zM735.2 584.2v-148.43h0.64v148.43zM735.84 584.2v-132.32h0.64v132.32zM736.49 584.2v-142.97h0.64v142.97zM737.13 584.2v-101.59h0.64v101.59zM737.78 584.2v-70.44h0.64v70.44zM738.42 584.2v-194.2h0.64v194.2zM739.07 584.2v-161.74h0.64v161.74zM739.71 584.2v-171.77h0.64v171.77zM740.35 584.2v-156.79h0.64v156.79zM741 584.2v-158.93h0.64v158.93zM741.64 584.2v-108h0.64v108zM742.29 584.2v-68.98h0.64v68.98zM742.93 584.2v-219.2h0.64v219.2zM743.57 584.2v-190.53h0.64v190.53zM744.22 584.2v-171.8h0.64v171.8zM744.86 584.2v-180.62h0.64v180.62zM745.51 584.2v-196.84h0.64v196.84zM746.15 584.2v-284.2h0.64v284.2zM746.8 584.2v-299.2h0.64v299.2zM747.44 584.2v-278.2h0.64v278.2zM748.08 584.2v-196.2h0.64v196.2zM748.73 584.2v-208.2h0.64v208.2zM749.37 584.2v-208.2h0.64v208.2zM750.02 584.2v-232.2h0.64v232.2zM750.66 584.2v-292.2h0.64v292.2zM751.3 584.2v-324.2h0.64v324.2zM751.95 584.2v-294.2h0.64v294.2zM752.59 584.2v-284.2h0.64v284.2zM753.24 584.2v-276.2h0.64v276.2zM753.88 584.2v-276.2h0.64v276.2zM754.53 584.2v-192.2h0.64v192.2zM755.17 584.2v-222.2h0.64v222.2zM755.81 584.2v-380.2h0.64v380.2zM756.46 584.2v-294.2h0.64v294.2zM757.1 584.2v-280.2h0.64v280.2zM757.75 584.2v-280.2h0.64v280.2zM758.39 584.2v-184.2h0.64v184.2zM759.04 584.2v-184.2h0.64v184.2zM759.68 584.2v-192.2h0.64v192.2zM760.32 584.2v-254.2h0.64v254.2zM760.97 584.2v-384.2h0.64v384.2zM761.61 584.2v-473.2h0.64v473.2zM762.26 584.2v-407.2h0.64v407.2zM762.9 584.2v-404.2h0.64v404.2zM763.54 584.2v-379.2h0.64v379.2zM764.19 584.2v-379.2h0.64v379.2zM764.83 584.2v-239.2h0.64v239.2zM765.48 584.2v-369.2h0.64v369.2zM766.12 584.2v-399.2h0.64v399.2zM766.77 584.2v-268.2h0.64v268.2zM767.41 584.2v-231.78h0.64v231.78zM768.05 584.2v-199.76h0.64v199.76zM768.7 584.2v-133.22h0.64v133.22zM769.34 584.2v-97.85h0.64v97.85zM769.99 584.2v-213.85h0.64v213.85zM770.63 584.2v-154.75h0.64v154.75zM771.28 584.2v-142.32h0.64v142.32zM771.92 584.2v-117.78h0.64v117.78zM772.56 584.2v-123.79h0.64v123.79zM773.21 584.2v-78.32h0.64v78.32zM773.85 584.2v-56.81h0.64v56.81zM774.5 584.2v-146.2h0.64v146.2zM775.14 584.2v-115.05h0.64v115.05zM775.78 584.2v-101.54h0.64v101.54zM776.43 584.2v-88.19h0.64v88.19zM777.07 584.2v-75.53h0.64v75.53zM777.72 584.2v-51.45h0.64v51.45zM778.36 584.2v-36.78h0.64v36.78zM779.01 584.2v-115.2h0.64v115.2zM779.65 584.2v-80.51h0.64v80.51zM780.29 584.2v-72.9h0.64v72.9zM780.94 584.2v-74h0.64v74zM781.58 584.2v-64.77h0.64v64.77zM782.23 584.2v-44.46h0.64v44.46zM782.87 584.2v-32.48h0.64v32.48zM783.51 584.2v-71.41h0.64v71.41zM784.16 584.2v-64.63h0.64v64.63zM784.8 584.2v-62.55h0.64v62.55zM785.45 584.2v-59.64h0.64v59.64zM786.09 584.2v-59.7h0.64v59.7zM786.74 584.2v-40.35h0.64v40.35zM787.38 584.2v-29.61h0.64v29.61zM788.02 584.2v-78.7h0.64v78.7zM788.67 584.2v-50.23h0.64v50.23zM789.31 584.2v-46.48h0.64v46.48zM789.96 584.2v-42.9h0.64v42.9zM790.6 584.2v-38.15h0.64v38.15zM791.25 584.2v-27.53h0.64v27.53zM791.89 584.2v-17.07h0.64v17.07zM792.53 584.2v-40.07h0.64v40.07zM793.18 584.2v-36.75h0.64v36.75zM793.82 584.2v-36.51h0.64v36.51zM794.47 584.2v-34.83h0.64v34.83zM795.11 584.2v-31.84h0.64v31.84zM795.75 584.2v-19.94h0.64v19.94zM796.4 584.2v-13.16h0.64v13.16zM797.04 584.2v-30.11h0.64v30.11zM797.69 584.2v-29.6h0.64v29.6zM798.33 584.2v-26.75h0.64v26.75zM798.98 584.2v-23.69h0.64v23.69zM799.62 584.2v-23.19h0.64v23.19zM800.26 584.2v-15.61h0.64v15.61zM800.91 584.2v-11.67h0.64v11.67zM801.55 584.2v-30.6h0.64v30.6zM802.2 584.2v-22.99h0.64v22.99zM802.84 584.2v-22.75h0.64v22.75zM803.49 584.2v-18.81h0.64v18.81zM804.13 584.2v-18.26h0.64v18.26zM804.77 584.2v-11.72h0.64v11.72zM805.42 584.2v-7.67h0.64v7.67zM806.06 584.2v-17.28h0.64v17.28zM806.71 584.2v-17.69h0.64v17.69zM807.35 584.2v-15.33h0.64v15.33zM807.99 584.2v-15.5h0.64v15.5zM808.64 584.2v-15.16h0.64v15.16zM809.28 584.2v-9.24h0.64v9.24zM809.93 584.2v-6.39h0.64v6.39zM810.57 584.2v-14.94h0.64v14.94zM811.22 584.2v-12.54h0.64v12.54zM811.86 584.2v-10.72h0.64v10.72zM812.5 584.2v-9.47h0.64v9.47zM813.15 584.2v-8.23h0.64v8.23zM813.79 584.2v-5.64h0.64v5.64zM814.44 584.2v-3.91h0.64v3.91zM815.08 584.2v-8.58h0.64v8.58zM815.73 584.2v-8.17h0.64v8.17zM816.37 584.2v-6.95h0.64v6.95zM817.01 584.2v-5.84h0.64v5.84zM817.66 584.2v-5.54h0.64v5.54zM818.3 584.2v-4.61h0.64v4.61zM818.95 584.2v-3.52h0.64v3.52zM819.59 584.2v-8.17h0.64v8.17zM820.23 584.2v-8.11h0.64v8.11zM820.88 584.2v-7.61h0.64v7.61zM821.52 584.2v-7.19h0.64v7.19zM822.17 584.2v-6.79h0.64v6.79zM822.81 584.2v-4.78h0.64v4.78zM823.46 584.2v-3.35h0.64v3.35zM824.1 584.2v-8.05h0.64v8.05zM824.74 584.2v-8.11h0.64v8.11zM825.39 584.2v-7.82h0.64v7.82zM826.03 584.2v-7.71h0.64v7.71zM826.68 584.2v-7.28h0.64v7.28zM827.32 584.2v-4.8h0.64v4.8zM827.96 584.2v-3.54h0.64v3.54zM828.61 584.2v-8.14h0.64v8.14zM829.25 584.2v-8.2h0.64v8.2zM829.9 584.2v-7.79h0.64v7.79zM830.54 584.2v-7.39h0.64v7.39zM831.19 584.2v-7.44h0.64v7.44zM831.83 584.2v-5.37h0.64v5.37zM832.47 584.2v-3.56h0.64v3.56zM833.12 584.2v-9.02h0.64v9.02zM833.76 584.2v-7.94h0.64v7.94zM834.41 584.2v-8.2h0.64v8.2zM835.05 584.2v-8.18h0.64v8.18zM835.7 584.2v-8.56h0.64v8.56zM836.34 584.2v-6.21h0.64v6.21zM836.98 584.2v-13.2h0.64v13.2zM837.63 584.2v-7.72h0.64v7.72zM838.27 584.2v-5.6h0.64v5.6zM838.92 584.2v-6h0.64v6zM839.56 584.2v-7.16h0.64v7.16zM840.2 584.2v-8.85h0.64v8.85zM840.85 584.2v-5.56h0.64v5.56z" fill="#0b4c7a"/>
<clipPath id="cb"><use href="#bars"/></clipPath>
<path d="M85.2 535.71H848M85.2 511.66H848M85.2 487.62H848M85.2 463.57H848M85.2 439.53H848M85.2 415.48H848M85.2 391.44H848M85.2 367.39H848M85.2 343.35H848M85.2 319.3H848M85.2 295.26H848M85.2 271.21H848M85.2 247.17H848M85.2 223.12H848M85.2 199.08H848M85.2 175.03H848M85.2 150.99H848M85.2 126.94H848M85.2 102.9H848M85.2 78.85H848M85.2 54.81H848" stroke="#063b66" stroke-width="1.3" stroke-dasharray="1.45 1.91" fill="none" clip-path="url(#cb)"/>
<rect x="91" y="583.6" width="750.6" height="0.8" fill="#2c5877"/>
<rect x="91" y="584.9" width="750.6" height="2.4" fill="#e2f0f8"/>
<circle cx="90.6" cy="559.5" r="3.65" fill="#fff"/>
<path d="M90.6 559.5 110 559.2 124 557.8 140 557.6 200 557.4 260 557.2 275 557 280 556.2 287 555 294 553.6 305 552 314 551.2 340 550.5 387 549.8 400 548 414 545.7 425 544.8 438 544.2 470 544.4 490 544 530 543 540 542 550 539 554 534 558 529 563 522 568 516 572 513 580 511 590 510 600 508 610 506 620 505.6 630 505 640 504 650 503 660 501 666 498 670 486 674 472 676.5 461 682 439 688 424 694 417.6 700 417 714 412 732 408 734 405.6 745 394 753 386 758 370 764 350 767.5 331 770 318 774 306 780 294 788 284 796 278 804 275 810 272 820 270.5 830 269.6 845.2 269" fill="none" stroke="#fff" stroke-width="7.3" stroke-linejoin="round"/>
<circle cx="90.6" cy="559.5" r="2.2" fill="#e9171f"/>
<path d="M90.6 559.5 110 559.2 124 557.8 140 557.6 200 557.4 260 557.2 275 557 280 556.2 287 555 294 553.6 305 552 314 551.2 340 550.5 387 549.8 400 548 414 545.7 425 544.8 438 544.2 470 544.4 490 544 530 543 540 542 550 539 554 534 558 529 563 522 568 516 572 513 580 511 590 510 600 508 610 506 620 505.6 630 505 640 504 650 503 660 501 666 498 670 486 674 472 676.5 461 682 439 688 424 694 417.6 700 417 714 412 732 408 734 405.6 745 394 753 386 758 370 764 350 767.5 331 770 318 774 306 780 294 788 284 796 278 804 275 810 272 820 270.5 830 269.6 845.2 269" fill="none" stroke="#e9171f" stroke-width="4.4" stroke-linejoin="round"/>
<g font-size="23.4" fill="#3e3a39" text-anchor="end">
<text x="76.7" y="592.17" textLength="5.7" lengthAdjust="spacingAndGlyphs">0</text>
<text x="76.7" y="544.08" textLength="22.3" lengthAdjust="spacingAndGlyphs">200</text>
<text x="76.7" y="495.99" textLength="22.3" lengthAdjust="spacingAndGlyphs">400</text>
<text x="76.7" y="447.9" textLength="22.3" lengthAdjust="spacingAndGlyphs">600</text>
<text x="76.7" y="399.81" textLength="22.3" lengthAdjust="spacingAndGlyphs">800</text>
<text x="76.7" y="351.72" textLength="30.6" lengthAdjust="spacingAndGlyphs">1000</text>
<text x="76.7" y="303.63" textLength="30.6" lengthAdjust="spacingAndGlyphs">1200</text>
<text x="76.7" y="255.54" textLength="30.6" lengthAdjust="spacingAndGlyphs">1400</text>
<text x="76.7" y="207.45" textLength="30.6" lengthAdjust="spacingAndGlyphs">1600</text>
<text x="76.7" y="159.36" textLength="30.6" lengthAdjust="spacingAndGlyphs">1800</text>
<text x="76.7" y="111.27" textLength="30.6" lengthAdjust="spacingAndGlyphs">2000</text>
<text x="76.7" y="63.18" textLength="30.6" lengthAdjust="spacingAndGlyphs">2200</text>
</g>
<path d="M79.5 580.1l5.2 3.7l-5.2 3.7zM79.5 532.01l5.2 3.7l-5.2 3.7zM79.5 483.92l5.2 3.7l-5.2 3.7zM79.5 435.83l5.2 3.7l-5.2 3.7zM79.5 387.74l5.2 3.7l-5.2 3.7zM79.5 339.65l5.2 3.7l-5.2 3.7zM79.5 291.56l5.2 3.7l-5.2 3.7zM79.5 243.47l5.2 3.7l-5.2 3.7zM79.5 195.38l5.2 3.7l-5.2 3.7zM79.5 147.29l5.2 3.7l-5.2 3.7zM79.5 99.2l5.2 3.7l-5.2 3.7zM79.5 51.11l5.2 3.7l-5.2 3.7z" fill="#1a1718"/>
<g font-size="23.4" fill="#3e3a39">
<text x="861.2" y="568.13" textLength="5.7" lengthAdjust="spacingAndGlyphs">0</text>
<text x="858.5" y="520.04" textLength="22.3" lengthAdjust="spacingAndGlyphs">100</text>
<text x="858.5" y="471.95" textLength="22.3" lengthAdjust="spacingAndGlyphs">200</text>
<text x="858.5" y="423.86" textLength="22.3" lengthAdjust="spacingAndGlyphs">300</text>
<text x="858.5" y="375.77" textLength="22.3" lengthAdjust="spacingAndGlyphs">400</text>
<text x="858.5" y="327.68" textLength="22.3" lengthAdjust="spacingAndGlyphs">500</text>
<text x="858.5" y="279.59" textLength="22.3" lengthAdjust="spacingAndGlyphs">600</text>
<text x="858.5" y="231.5" textLength="22.3" lengthAdjust="spacingAndGlyphs">700</text>
</g>
<path d="M855 556.05l-5.2 3.7l5.2 3.7zM855 507.96l-5.2 3.7l5.2 3.7zM855 459.87l-5.2 3.7l5.2 3.7zM855 411.78l-5.2 3.7l5.2 3.7zM855 363.69l-5.2 3.7l5.2 3.7zM855 315.6l-5.2 3.7l5.2 3.7zM855 267.51l-5.2 3.7l5.2 3.7zM855 219.42l-5.2 3.7l5.2 3.7z" fill="#1a1718"/>
<text x="61.1" y="84.5" font-size="18" fill="#3e3a39" text-anchor="middle">(人)</text>
<text x="869.9" y="254.1" font-size="18" fill="#3e3a39" text-anchor="middle">(人)</text>
<rect x="21" y="47.9" width="15.6" height="15.9" fill="#0b4c7a"/>
<rect x="860.1" y="47.9" width="15.8" height="15.9" fill="#ea1a23"/>
<text font-size="24" font-weight="500" fill="#231f20" x="17.1 17.1 17.1 17.1 17.1" y="89.52 113.22 136.92 160.62 184.32">感染発表数</text>
<text font-size="24" font-weight="500" fill="#231f20" x="856.7 856.7 856.7 856.7 856.7" y="89.82 113.52 137.22 160.92 184.62">死者数累計</text>
<text x="278.94" y="39.16" font-size="26.7" fill="#231f20" textLength="357" lengthAdjust="spacingAndGlyphs">県内の新型コロナ感染の推移</text>
<path d="M91 587.2h21v7.4h-21zM131.33 587.2h19.97v7.4h-19.97zM170.62 587.2h19.97v7.4h-19.97zM210.56 587.2h19.33v7.4h-19.33zM249.86 587.2h19.33v7.4h-19.33zM289.15 587.2h19.97v7.4h-19.97zM327.16 587.2h19.97v7.4h-19.97zM366.46 587.2h19.97v7.4h-19.97zM405.76 587.2h19.97v7.4h-19.97zM445.7 587.2h19.33v7.4h-19.33zM484.99 587.2h19.33v7.4h-19.33zM524.29 587.2h19.97v7.4h-19.97zM562.3 587.2h19.97v7.4h-19.97zM601.59 587.2h19.97v7.4h-19.97zM640.89 587.2h19.97v7.4h-19.97zM680.83 587.2h19.33v7.4h-19.33zM720.12 587.2h19.33v7.4h-19.33zM759.42 587.2h19.97v7.4h-19.97zM797.43 587.2h19.97v7.4h-19.97zM836.73 587.2h4.88v7.4h-4.88z" fill="#3d86a8"/><path d="M112 587.2h19.33v7.4h-19.33zM151.3 587.2h19.33v7.4h-19.33zM190.59 587.2h19.97v7.4h-19.97zM229.89 587.2h19.97v7.4h-19.97zM269.18 587.2h19.97v7.4h-19.97zM309.13 587.2h18.04v7.4h-18.04zM347.13 587.2h19.33v7.4h-19.33zM386.43 587.2h19.33v7.4h-19.33zM425.73 587.2h19.97v7.4h-19.97zM465.02 587.2h19.97v7.4h-19.97zM504.32 587.2h19.97v7.4h-19.97zM544.26 587.2h18.04v7.4h-18.04zM582.27 587.2h19.33v7.4h-19.33zM621.56 587.2h19.33v7.4h-19.33zM660.86 587.2h19.97v7.4h-19.97zM700.15 587.2h19.97v7.4h-19.97zM739.45 587.2h19.97v7.4h-19.97zM779.39 587.2h18.04v7.4h-18.04zM817.4 587.2h19.33v7.4h-19.33z" fill="#1e5977"/>
<g font-size="18.5" fill="#1b4b69" text-anchor="middle">
<text x="90" y="611.1" textLength="8" lengthAdjust="spacingAndGlyphs">2</text>
<text x="122.1" y="611.1" textLength="8.6" lengthAdjust="spacingAndGlyphs">4</text>
<text x="161.4" y="611.1" textLength="8" lengthAdjust="spacingAndGlyphs">6</text>
<text x="201" y="611.1" textLength="8" lengthAdjust="spacingAndGlyphs">8</text>
<text x="240.4" y="611.1" textLength="14.5" lengthAdjust="spacingAndGlyphs">10</text>
<text x="279.7" y="611.1" textLength="14.5" lengthAdjust="spacingAndGlyphs">12</text>
<text x="318.5" y="611.1" textLength="8" lengthAdjust="spacingAndGlyphs">2</text>
<text x="357.2" y="611.1" textLength="8.6" lengthAdjust="spacingAndGlyphs">4</text>
<text x="396.5" y="611.1" textLength="8" lengthAdjust="spacingAndGlyphs">6</text>
<text x="436.1" y="611.1" textLength="8" lengthAdjust="spacingAndGlyphs">8</text>
<text x="475.5" y="611.1" textLength="14.5" lengthAdjust="spacingAndGlyphs">10</text>
<text x="514.8" y="611.1" textLength="14.5" lengthAdjust="spacingAndGlyphs">12</text>
<text x="553.7" y="611.1" textLength="8" lengthAdjust="spacingAndGlyphs">2</text>
<text x="592.3" y="611.1" textLength="8.6" lengthAdjust="spacingAndGlyphs">4</text>
<text x="631.6" y="611.1" textLength="8" lengthAdjust="spacingAndGlyphs">6</text>
<text x="671.2" y="611.1" textLength="8" lengthAdjust="spacingAndGlyphs">8</text>
<text x="710.6" y="611.1" textLength="14.5" lengthAdjust="spacingAndGlyphs">10</text>
<text x="749.9" y="611.1" textLength="14.5" lengthAdjust="spacingAndGlyphs">12</text>
<text x="788.8" y="611.1" textLength="8" lengthAdjust="spacingAndGlyphs">2</text>
<text x="826.7" y="611.1" textLength="8.6" lengthAdjust="spacingAndGlyphs">4</text>
<text x="840" y="611.1" textLength="7.6" lengthAdjust="spacingAndGlyphs" fill="#3d86a8">5</text>
</g>
<text x="859.4" y="612" font-size="18" fill="#3e3a39" text-anchor="middle">(月)</text>
<rect x="91" y="615" width="198.15" height="22" fill="#4c4b4d"/>
<rect x="289.15" y="615" width="235.13" height="22" fill="#6e8b9b"/>
<rect x="524.29" y="615" width="235.13" height="22" fill="#4c4b4d"/>
<rect x="759.42" y="615" width="82.18" height="22" fill="#6e8b9b"/>
<text x="146.8" y="634.2" font-size="22.5" fill="#fff" textLength="63" lengthAdjust="spacingAndGlyphs">2020</text>
<text x="211.2" y="634.9" font-size="22.4" fill="#fff">年</text>
<text x="364.1" y="634.2" font-size="22.5" fill="#fff" textLength="63" lengthAdjust="spacingAndGlyphs">2021</text>
<text x="428.5" y="634.9" font-size="22.4" fill="#fff">年</text>
<text x="599.4" y="634.2" font-size="22.5" fill="#fff" textLength="63" lengthAdjust="spacingAndGlyphs">2022</text>
<text x="663.8" y="634.9" font-size="22.4" fill="#fff">年</text>
<text x="764.1" y="634.2" font-size="22.5" fill="#fff" textLength="52" lengthAdjust="spacingAndGlyphs">2023</text>
<text x="818.3" y="634.9" font-size="22.2" fill="#fff" textLength="18.5" lengthAdjust="spacingAndGlyphs">年</text>
<g font-size="22.7" font-weight="500" fill="#231f20" stroke="#fff" stroke-width="5.5" stroke-linejoin="round" paint-order="stroke">
<text x="85.5" y="459.05" textLength="52.4" lengthAdjust="spacingAndGlyphs">第1波</text>
<text x="178.1" y="459.05" textLength="64.7" lengthAdjust="spacingAndGlyphs">第2波</text>
<text x="258.3" y="459.05" textLength="65.7" lengthAdjust="spacingAndGlyphs">第3波</text>
<text x="340.4" y="459.05" textLength="65.8" lengthAdjust="spacingAndGlyphs">第4波</text>
<text x="421.1" y="459.05" textLength="65.2" lengthAdjust="spacingAndGlyphs">第5波</text>
<text x="549.7" y="459.05" textLength="66" lengthAdjust="spacingAndGlyphs">第6波</text>
<text x="647.6" y="78.85" textLength="66.4" lengthAdjust="spacingAndGlyphs">第7波</text>
<text x="736.1" y="78.85" textLength="65.6" lengthAdjust="spacingAndGlyphs">第8波</text>
</g>
<path d="M95.2 477.2H128" stroke="#1a1718" stroke-width="1.5" fill="none"/><path d="M92.2 477.2l7 -3.9v7.8zM131 477.2l-7 -3.9v7.8z" fill="#1a1718"/>
<path d="M174 477.2H246.3" stroke="#1a1718" stroke-width="1.5" fill="none"/><path d="M171 477.2l7 -3.9v7.8zM249.3 477.2l-7 -3.9v7.8z" fill="#1a1718"/>
<path d="M266.8 477.2H314.8" stroke="#1a1718" stroke-width="1.5" fill="none"/><path d="M263.8 477.2l7 -3.9v7.8zM317.8 477.2l-7 -3.9v7.8z" fill="#1a1718"/>
<path d="M330.3 477.2H417" stroke="#1a1718" stroke-width="1.5" fill="none"/><path d="M327.3 477.2l7 -3.9v7.8zM420 477.2l-7 -3.9v7.8z" fill="#1a1718"/>
<path d="M424 477.2H481.4" stroke="#1a1718" stroke-width="1.5" fill="none"/><path d="M421 477.2l7 -3.9v7.8zM484.4 477.2l-7 -3.9v7.8z" fill="#1a1718"/>
<path d="M527.4 477.2H638" stroke="#1a1718" stroke-width="1.5" fill="none"/><path d="M524.4 477.2l7 -3.9v7.8zM641 477.2l-7 -3.9v7.8z" fill="#1a1718"/>
<path d="M644 91.2H717" stroke="#1a1718" stroke-width="1.5" fill="none"/><path d="M641 91.2l7 -3.9v7.8zM720 91.2l-7 -3.9v7.8z" fill="#1a1718"/>
<path d="M723.7 91.2H813.7" stroke="#1a1718" stroke-width="1.5" fill="none"/><path d="M720.7 91.2l7 -3.9v7.8zM816.7 91.2l-7 -3.9v7.8z" fill="#1a1718"/>
<path d="M104.2 506.6H225.5V536.8H170L172.7 551.9L160.2 536.8H104.2Z" fill="#ea482e"/>
<text x="109.63" y="529.98" font-size="22.1" font-weight="500" fill="#fff" textLength="110" lengthAdjust="spacingAndGlyphs">死者数累計</text>
<path d="M529.2 303.3H655.5V332.3H638.2L651.5 359.3L626.7 332.3H529.2Z" fill="#0b4c7a"/>
<text x="536.98" y="326.11" font-size="21.3" font-weight="500" fill="#fff" textLength="110.8" lengthAdjust="spacingAndGlyphs">感染発表数</text>
<path d="M656 107.6L673.4 98.2L656 113Z" fill="#0b4c7a"/>
<rect x="602" y="105.9" width="53.4" height="28.8" fill="#fff" stroke="#0b4c7a" stroke-width="1.8"/>
<text x="607.9" y="129.5" font-size="25" fill="#231f20" textLength="42" lengthAdjust="spacingAndGlyphs">2027</text>
<path d="M826.8 248L843.3 266L834 248Z" fill="#e9171f"/>
<rect x="792.3" y="218.2" width="48.7" height="30.5" fill="#fff"/>
<rect x="793.2" y="219.1" width="46.9" height="28.7" fill="#fff" stroke="#d9161f" stroke-width="1.8"/>
<text x="800.9" y="242.6" font-size="25.7" fill="#231f20" textLength="31.2" lengthAdjust="spacingAndGlyphs">602</text>
</svg>
</body></html>
